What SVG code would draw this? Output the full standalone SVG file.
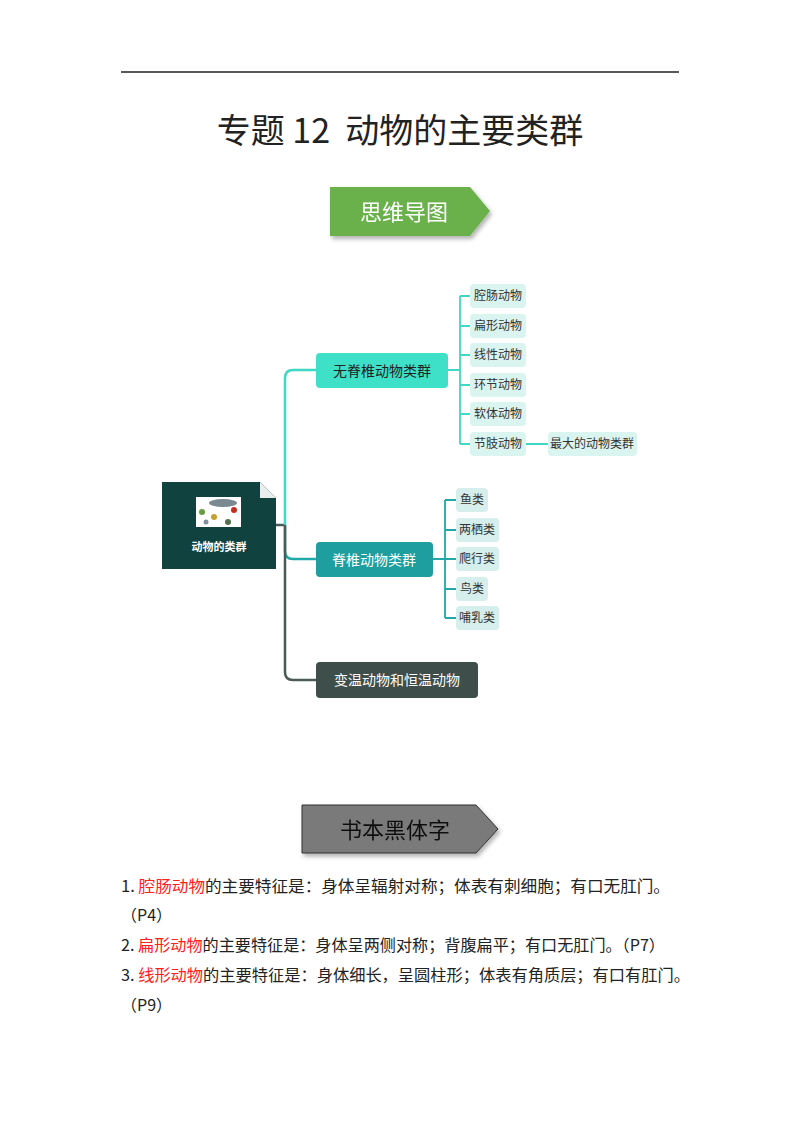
<svg xmlns="http://www.w3.org/2000/svg" width="800" height="1132" viewBox="0 0 800 1132">
<defs>
<filter id="sh" x="-10%" y="-10%" width="130%" height="140%"><feDropShadow dx="2" dy="3" stdDeviation="2" flood-color="#000" flood-opacity="0.3"/></filter>
</defs>
<style>
text{font-family:"Noto Sans CJK SC","Liberation Sans",sans-serif}
.t1{fill:#222;font-size:14px}
.leaf{fill:#daf4f0}
.leaf2{fill:#d6eeec}
.lt{font-size:12px;fill:#333}
.body{font-size:16px;fill:#222}
.red{fill:#ff2020}
.ct{fill:none;stroke-width:2.5}
</style>
<rect width="800" height="1132" fill="#fff"/>
<line x1="121" y1="72" x2="679" y2="72" stroke="#222" stroke-width="1.5"/>
<text x="400" y="143" text-anchor="middle" font-size="34" fill="#222">专题&#160;12&#160;&#160;动物的主要类群</text>
<g id="ribbon1" filter="url(#sh)">
<polygon points="330,187 470,187 490,211 470,236 330,236" fill="#6ab04c"/>
<text x="404" y="220" text-anchor="middle" font-size="22" fill="#fff">思维导图</text>
</g>
<g id="connectors">
<path class="ct" d="M276,525 H285" stroke="#4a5a56"/>
<path class="ct" d="M285,525 V378 Q285,370 293,370 H316" stroke="#3ed8c4"/>
<path class="ct" d="M285,525 V551 Q285,559 293,559 H316" stroke="#22a8a6"/>
<path class="ct" d="M285,525 V672 Q285,680 293,680 H316" stroke="#4a5a56"/>
<g stroke="#3ed8c4" stroke-width="1.8" fill="none">
<path d="M448,370 H460 M460,296 V444 M460,296 H470 M460,326 H470 M460,355 H470 M460,385 H470 M460,414 H470 M460,444 H470 M526,444 H548"/>
</g>
<g stroke="#22a8a6" stroke-width="1.8" fill="none">
<path d="M433,559 H445 M445,500 V618 M445,500 H456 M445,530 H456 M445,559 H456 M445,589 H456 M445,618 H456"/>
</g>
</g>
<g id="root">
<path d="M162,482 H260 L276,498 V569 H162 Z" fill="#10423f"/>
<path d="M260,482 L276,498 H260 Z" fill="#e8eeee"/>
<rect x="196" y="497" width="45" height="30" fill="#fff"/>
<ellipse cx="223" cy="503" rx="14" ry="4" fill="#7a8a90"/>
<circle cx="202" cy="512" r="3" fill="#6a9a40"/><circle cx="214" cy="517" r="3" fill="#c8a030"/><circle cx="234" cy="510" r="3" fill="#c03020"/><circle cx="228" cy="522" r="3" fill="#507050"/><circle cx="206" cy="522" r="2.5" fill="#8090a0"/>
<text x="219" y="551" text-anchor="middle" font-size="11" font-weight="bold" fill="#fff">动物的类群</text>
</g>
<g id="n-wujizhui"><rect x="316" y="353" width="132" height="35" rx="4" fill="#3ee0c8"/><text x="382" y="376" text-anchor="middle" class="t1">无脊椎动物类群</text></g>
<g id="n-jizhui"><rect x="316" y="542" width="117" height="35" rx="4" fill="#1e9e9e"/><text x="374" y="565" text-anchor="middle" font-size="14" fill="#fff">脊椎动物类群</text></g>
<g id="n-bianwen"><rect x="316" y="662" width="162" height="36" rx="4" fill="#3e4e4a"/><text x="397" y="685" text-anchor="middle" font-size="14" fill="#fff">变温动物和恒温动物</text></g>
<g id="l1"><rect class="leaf" x="470" y="284" width="56" height="24" rx="4"/><text class="lt" x="498" y="300" text-anchor="middle">腔肠动物</text></g>
<g id="l2"><rect class="leaf" x="470" y="314" width="56" height="24" rx="4"/><text class="lt" x="498" y="330" text-anchor="middle">扁形动物</text></g>
<g id="l3"><rect class="leaf" x="470" y="343" width="56" height="24" rx="4"/><text class="lt" x="498" y="359" text-anchor="middle">线性动物</text></g>
<g id="l4"><rect class="leaf" x="470" y="373" width="56" height="24" rx="4"/><text class="lt" x="498" y="389" text-anchor="middle">环节动物</text></g>
<g id="l5"><rect class="leaf" x="470" y="402" width="56" height="24" rx="4"/><text class="lt" x="498" y="418" text-anchor="middle">软体动物</text></g>
<g id="l6"><rect class="leaf" x="470" y="432" width="56" height="24" rx="4"/><text class="lt" x="498" y="448" text-anchor="middle">节肢动物</text></g>
<g id="l7"><rect class="leaf" x="548" y="432" width="89" height="24" rx="4"/><text class="lt" x="592" y="448" text-anchor="middle">最大的动物类群</text></g>
<g id="v1"><rect class="leaf2" x="456" y="488" width="32" height="24" rx="4"/><text class="lt" x="472" y="504" text-anchor="middle">鱼类</text></g>
<g id="v2"><rect class="leaf2" x="456" y="518" width="43" height="24" rx="4"/><text class="lt" x="477" y="534" text-anchor="middle">两栖类</text></g>
<g id="v3"><rect class="leaf2" x="456" y="547" width="43" height="24" rx="4"/><text class="lt" x="477" y="563" text-anchor="middle">爬行类</text></g>
<g id="v4"><rect class="leaf2" x="456" y="577" width="32" height="24" rx="4"/><text class="lt" x="472" y="593" text-anchor="middle">鸟类</text></g>
<g id="v5"><rect class="leaf2" x="456" y="606" width="43" height="24" rx="4"/><text class="lt" x="477" y="622" text-anchor="middle">哺乳类</text></g>
<g id="ribbon2" filter="url(#sh)">
<polygon points="302,805 476,805 498,829 476,853 302,853" fill="#7a7a7a" stroke="#333" stroke-width="1"/>
<text x="395" y="838" text-anchor="middle" font-size="22" fill="#111">书本黑体字</text>
</g>
<text class="body" x="121" y="892" textLength="549" lengthAdjust="spacingAndGlyphs">1. <tspan class="red">腔肠动物</tspan>的主要特征是：身体呈辐射对称；体表有刺细胞；有口无肛门。</text>
<text class="body" x="121" y="921">（P4）</text>
<text class="body" x="121" y="951" textLength="544" lengthAdjust="spacingAndGlyphs">2. <tspan class="red">扁形动物</tspan>的主要特征是：身体呈两侧对称；背腹扁平；有口无肛门。（P7）</text>
<text class="body" x="121" y="981" textLength="569" lengthAdjust="spacingAndGlyphs">3. <tspan class="red">线形动物</tspan>的主要特征是：身体细长，呈圆柱形；体表有角质层；有口有肛门。</text>
<text class="body" x="121" y="1011">（P9）</text>
</svg>
